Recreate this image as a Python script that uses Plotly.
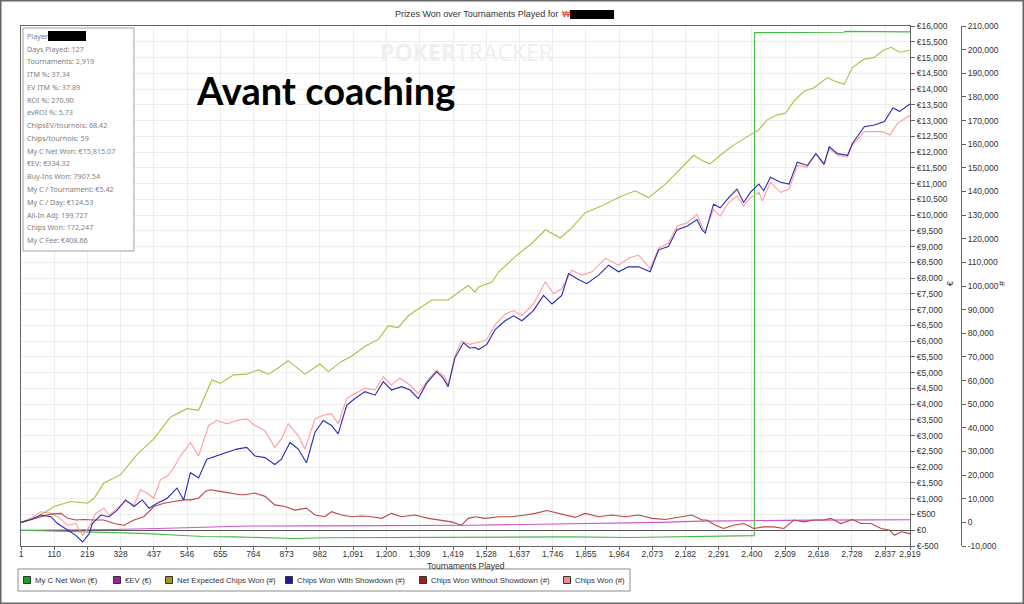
import plotly.graph_objects as go

# ---------------- data ----------------
t_net_exp = [1, 55, 110, 164, 219, 241, 273, 328, 382, 437, 491, 546, 584, 628, 655, 699, 742,
             780, 813, 845, 878, 906, 933, 982, 1010, 1053, 1086, 1130, 1174, 1206, 1239, 1272, 1305,
             1349, 1403, 1447, 1469, 1491, 1503, 1547, 1569, 1623, 1678, 1722, 1771, 1809, 1853, 1908,
             1962, 2017, 2061, 2116, 2159, 2209, 2236, 2263, 2296, 2340, 2384, 2422, 2450, 2483, 2510,
             2538, 2571, 2604, 2648, 2670, 2703, 2730, 2769, 2802, 2830, 2857, 2885, 2919]
net_expected_chips = [0, 2400, 6700, 8800, 8100, 10200, 16700, 20200, 28800, 35300, 44500, 48100, 47400,
                      60300, 58800, 62400, 62700, 64500, 62700, 65300, 68400, 65300, 62700, 67000, 63800,
                      68100, 70300, 74500, 77400, 83100, 82400, 87400, 90300, 94100, 94100, 98100, 100300,
                      97400, 99600, 101700, 106000, 112400, 118100, 123800, 120300, 124600, 131000, 133900,
                      137400, 140300, 137400, 143100, 148900, 155300, 153100, 151700, 155300, 159600,
                      163100, 166000, 170300, 172400, 173100, 178200, 182400, 183900, 188200, 186700,
                      185300, 192400, 196000, 196700, 199600, 201000, 198900, 199727]

t_with_sd = [1, 34, 66, 99, 121, 154, 181, 203, 225, 235, 263, 290, 317, 344, 372, 399, 421, 448, 481,
             513, 535, 557, 584, 611, 644, 677, 709, 742, 769, 802, 834, 856, 884, 911, 938, 966, 993,
             1020, 1042, 1070, 1097, 1130, 1163, 1190, 1217, 1250, 1278, 1305, 1332, 1365, 1387, 1403,
             1425, 1453, 1474, 1491, 1503, 1530, 1558, 1590, 1618, 1645, 1683, 1716, 1744, 1776, 1798,
             1826, 1858, 1897, 1930, 1962, 1995, 2028, 2066, 2094, 2126, 2154, 2187, 2220, 2236, 2247,
             2274, 2296, 2324, 2351, 2373, 2395, 2423, 2439, 2461, 2494, 2522, 2549, 2582, 2610, 2637,
             2654, 2681, 2714, 2730, 2769, 2802, 2835, 2863, 2885, 2919]
chips_with_showdown = [0, 1200, 3100, 2400, -500, -3300, -5500, -8300, -4800, -500, 3100, 2400, 5200,
                       9500, 6700, 9500, 6000, 8100, 10200, 14500, 9500, 21000, 18800, 26700, 28100,
                       29500, 31000, 31700, 28100, 27400, 24500, 26700, 33800, 31000, 25200, 38100,
                       43100, 41000, 37400, 49500, 52400, 55300, 53800, 59500, 56000, 57400, 56000,
                       52400, 58800, 63800, 61000, 57400, 69500, 76000, 73800, 74000, 73100, 75300,
                       81700, 85300, 87400, 85300, 89600, 96000, 92400, 96000, 105300, 103100, 101000,
                       104600, 108800, 106000, 108100, 108100, 106000, 115300, 116700, 123800, 125300,
                       128100, 123800, 122400, 134600, 133100, 137400, 141000, 135300, 139600, 143100,
                       140300, 146000, 143900, 143100, 152400, 151000, 156000, 151700, 158900, 156000,
                       155300, 160300, 167400, 168100, 169600, 175300, 173900, 177000]

t_chips_won = [1, 34, 66, 99, 121, 154, 181, 203, 225, 246, 273, 290, 317, 344, 372, 393, 415, 437, 459,
               481, 502, 524, 546, 557, 584, 617, 644, 677, 709, 742, 769, 802, 834, 856, 878, 911, 933,
               966, 993, 1020, 1042, 1070, 1097, 1130, 1163, 1190, 1217, 1245, 1278, 1305, 1332, 1365,
               1392, 1403, 1425, 1447, 1474, 1491, 1503, 1530, 1558, 1590, 1618, 1645, 1683, 1722, 1749,
               1776, 1809, 1842, 1875, 1919, 1962, 1995, 2028, 2066, 2094, 2126, 2154, 2187, 2220, 2236,
               2247, 2274, 2296, 2324, 2351, 2373, 2395, 2423, 2434, 2461, 2494, 2522, 2549, 2582, 2610,
               2637, 2654, 2681, 2714, 2730, 2769, 2802, 2830, 2852, 2879, 2919]
chips_won = [0, 1700, 4500, 3800, 2400, -1200, -500, -5500, -1900, 3800, 6000, 3100, 6000, 8800, 7400,
             13800, 12400, 10200, 18100, 19500, 23100, 28100, 31700, 33800, 28100, 41000, 43100, 41700,
             43100, 43800, 41000, 38800, 31700, 35300, 41700, 36700, 31000, 43800, 45300, 46000, 41700,
             52400, 54500, 56700, 56000, 61700, 58100, 61000, 58100, 54500, 59500, 64500, 61700, 58100,
             70300, 76700, 75300, 76000, 76000, 77400, 83800, 88100, 89600, 87400, 92400, 101700, 96700,
             98800, 106700, 104600, 106000, 111700, 108800, 111700, 113100, 107400, 116000, 118100,
             125300, 126700, 130300, 125300, 123100, 132400, 129600, 135300, 138100, 133900, 137400,
             139600, 136000, 143900, 139600, 141000, 151000, 150300, 156000, 151000, 158100, 155300,
             154600, 159600, 165300, 165300, 165300, 163900, 168900, 172247]

t_without_sd = [1, 34, 66, 99, 132, 154, 181, 208, 241, 273, 306, 339, 372, 404, 437, 470, 502, 535, 557,
                584, 606, 622, 655, 688, 720, 736, 769, 802, 834, 867, 900, 938, 966, 998, 1020, 1053,
                1086, 1119, 1152, 1185, 1217, 1250, 1294, 1338, 1381, 1414, 1447, 1469, 1491, 1525, 1569,
                1612, 1656, 1689, 1727, 1765, 1820, 1853, 1897, 1940, 1984, 2028, 2072, 2116, 2159, 2203,
                2236, 2252, 2280, 2307, 2340, 2373, 2406, 2439, 2472, 2505, 2538, 2571, 2604, 2637, 2659,
                2692, 2730, 2758, 2791, 2824, 2852, 2868, 2890, 2919]
chips_without_showdown = [0, 1200, 2400, 3500, 3800, 1700, 1000, 1200, 1000, 1000, -500, -1200, 1000,
                          2400, 6700, 8100, 8800, 9500, 9500, 10200, 13100, 13800, 13100, 12400, 11700,
                          11700, 12400, 11000, 7400, 6700, 5200, 6000, 3100, 2400, 4500, 3100, 2400, 2700,
                          2400, 1700, 3800, 2400, 3100, 1700, 1000, 200, -1200, 1700, 2400, 1700, 2400,
                          2400, 3100, 3800, 5000, 3800, 2100, 3800, 2400, 3100, 2400, 3100, 1700, 1200,
                          2100, 3100, 1000, 1000, -1200, -2600, -1200, -500, -2600, -1900, -1900, -2600,
                          1000, 200, 1000, 1000, 1700, -500, 1200, -500, -500, -2600, -3300, -5500, -4000,
                          -4750]

t_eev = [1, 150, 300, 450, 600, 750, 1000, 1250, 1480, 1700, 1900, 2100, 2230, 2400, 2600, 2800, 2919]
eev_eur = [0, 5, 25, 55, 90, 135, 140, 145, 160, 190, 215, 250, 290, 310, 320, 330, 334.32]

t_net_won = [1, 100, 200, 300, 400, 500, 600, 700, 800, 900, 1000, 1200, 1400, 1600, 1800, 2000, 2200,
             2300, 2408, 2409, 2500, 2700, 2710, 2800, 2919]
net_won_eur = [0, -20, -40, -60, -100, -150, -200, -210, -230, -260, -240, -230, -220, -200, -210, -230,
               -200, -170, -170, 15790, 15790, 15800, 15830, 15830, 15815.07]

x_ticks = [1, 110, 219, 328, 437, 546, 655, 764, 873, 982, 1091, 1200, 1309, 1419, 1528, 1637, 1746,
           1855, 1964, 2073, 2182, 2291, 2400, 2509, 2618, 2728, 2837, 2919]
euro_ticks = list(range(-500, 16001, 500))
chips_ticks = list(range(-10000, 210001, 10000))

stats_lines = ["Player", "Days Played: 127", "Tournaments: 2,919", "ITM %: 37.34", "EV ITM %: 37.89",
               "ROI %: 270.90", "evROI %: 5.73", "ChipsEV/tournois: 68.42", "Chips/tournois: 59",
               "My C Net Won: €15,815.07", "€EV: €334.32", "Buy-Ins Won: 7907.54",
               "My C / Tournament: €5.42", "My C / Day: €124.53", "All-In Adj: 199,727",
               "Chips Won: 172,247", "My C Fee: €408.66"]

legend_names = ["My C Net Won (€)", "€EV (€)", "Net Expected Chips Won (#)",
                "Chips Won With Showdown (#)", "Chips Won Without Showdown (#)", "Chips Won (#)"]
legend_colors = ["#1f9e1f", "#a020a0", "#a89a10", "#1a1aa8", "#a81c1c", "#f58c8c"]
legend_px = [27, 117, 169, 289, 423, 567]

# ---------------- layout helpers ----------------
L, R, T, B = 21, 961, 26, 546
W, H = R - L, B - T
PLOT_RIGHT = 910


def PX(x):
    return (x - L) / W


def PY(y):
    return (B - y) / H


FONT = "Liberation Sans"
fig = go.Figure()

line_w = 1.1
fig.add_trace(go.Scatter(x=t_chips_won, y=chips_won, yaxis="y2", mode="lines",
                         line=dict(color="#ff9c9c", width=line_w), showlegend=False, hoverinfo="skip"))
fig.add_trace(go.Scatter(x=t_without_sd, y=chips_without_showdown, yaxis="y2", mode="lines",
                         line=dict(color="#bb4646", width=line_w), showlegend=False, hoverinfo="skip"))
fig.add_trace(go.Scatter(x=t_net_exp, y=net_expected_chips, yaxis="y2", mode="lines",
                         line=dict(color="#b8b840", width=line_w), showlegend=False, hoverinfo="skip"))
fig.add_trace(go.Scatter(x=t_with_sd, y=chips_with_showdown, yaxis="y2", mode="lines",
                         line=dict(color="#2a2ab0", width=line_w), showlegend=False, hoverinfo="skip"))
fig.add_trace(go.Scatter(x=t_eev, y=eev_eur, yaxis="y", mode="lines",
                         line=dict(color="#cc55cc", width=line_w), showlegend=False, hoverinfo="skip"))
fig.add_trace(go.Scatter(x=t_net_won, y=net_won_eur, yaxis="y", mode="lines",
                         line=dict(color="#44bb44", width=line_w), showlegend=False, hoverinfo="skip"))

annotations = []
shapes = []

# title
annotations.append(dict(text="Prizes Won over Tournaments Played for ", x=PX(563), y=PY(14),
                        xref="paper", yref="paper", xanchor="right", yanchor="middle", showarrow=False,
                        font=dict(family=FONT, size=9, color="#333333")))
annotations.append(dict(text="₩", x=PX(566), y=PY(14), xref="paper", yref="paper", xanchor="center",
                        yanchor="middle", showarrow=False, font=dict(family=FONT, size=9, color="#e02020")))
shapes.append(dict(type="rect", xref="paper", yref="paper", x0=PX(570), x1=PX(614), y0=PY(19), y1=PY(10),
                   fillcolor="#000000", line=dict(width=0)))

# watermark
annotations.append(dict(text="<b>POKER</b>TRACKER", x=PX(466), y=PY(52), xref="paper", yref="paper",
                        xanchor="center", yanchor="middle", showarrow=False,
                        font=dict(family="Open Sans", size=23, color="#efefef")))

# big text
annotations.append(dict(text="<b>Avant coaching</b>", x=PX(194), y=PY(90), xref="paper", yref="paper",
                        xanchor="left", yanchor="middle", showarrow=False,
                        font=dict(family="Lato", size=38, color="#000000")))

# stats box
shapes.append(dict(type="rect", xref="paper", yref="paper", x0=PX(23), x1=PX(134), y0=PY(251), y1=PY(28),
                   fillcolor="#ffffff", line=dict(color="#a0a0a0", width=1)))
for i, s in enumerate(stats_lines):
    annotations.append(dict(text=s, x=PX(25), y=PY(36 + 12.75 * i), xref="paper", yref="paper",
                            xanchor="left", yanchor="middle", showarrow=False,
                            font=dict(family="Noto Sans", size=7.2, color="#808080")))
shapes.append(dict(type="rect", xref="paper", yref="paper", x0=PX(48), x1=PX(86), y0=PY(41), y1=PY(31),
                   fillcolor="#000000", line=dict(width=0)))

# axis titles
annotations.append(dict(text="Tournaments Played", x=PX(466), y=PY(566), xref="paper", yref="paper",
                        xanchor="center", yanchor="middle", showarrow=False,
                        font=dict(family=FONT, size=8.5, color="#333333")))
annotations.append(dict(text="€", x=PX(950), y=PY(284), xref="paper", yref="paper", textangle=-90,
                        xanchor="center", yanchor="middle", showarrow=False,
                        font=dict(family=FONT, size=9, color="#333333")))
annotations.append(dict(text="#", x=PX(1002), y=PY(284), xref="paper", yref="paper", textangle=-90,
                        xanchor="center", yanchor="middle", showarrow=False,
                        font=dict(family=FONT, size=9, color="#333333")))

# legend (drawn by hand)
shapes.append(dict(type="rect", xref="paper", yref="paper", x0=PX(18), x1=PX(630), y0=PY(591), y1=PY(569),
                   fillcolor="#ffffff", line=dict(color="#8a8a8a", width=1)))
for name, col, xp in zip(legend_names, legend_colors, legend_px):
    shapes.append(dict(type="rect", xref="paper", yref="paper", x0=PX(xp - 3.5), x1=PX(xp + 3.5),
                       y0=PY(583.5), y1=PY(576.5), fillcolor=col, line=dict(color="#333333", width=1)))
    annotations.append(dict(text=name, x=PX(xp + 6), y=PY(580), xref="paper", yref="paper",
                            xanchor="left", yanchor="middle", showarrow=False,
                            font=dict(family=FONT, size=7.8, color="#333333")))

# outer frame
shapes.append(dict(type="rect", xref="paper", yref="paper", x0=PX(0.5), x1=PX(1023.5), y0=PY(603.5),
                   y1=PY(0.5), line=dict(color="#666666", width=2), fillcolor="rgba(0,0,0,0)"))

tickfont = dict(family=FONT, size=8.5, color="#333333")
fig.update_layout(
    width=1024, height=604, template="none",
    margin=dict(l=L, r=1024 - R, t=T, b=604 - B, pad=0),
    paper_bgcolor="#ffffff", plot_bgcolor="#ffffff",
    showlegend=False,
    xaxis=dict(domain=[0, (PLOT_RIGHT - L) / W], range=[1, 2919], tickvals=x_ticks,
               ticktext=[f"{v:,}" for v in x_ticks], tickfont=tickfont, ticks="outside", ticklen=3,
               ticklabelstandoff=-3,
               tickcolor="#666666", showgrid=True, gridcolor="#ededed", gridwidth=1, zeroline=False,
               showline=True, linecolor="#666666", linewidth=1, mirror=True, automargin=False),
    yaxis=dict(side="right", anchor="x", range=[-500, 16000], tickvals=euro_ticks,
               ticktext=[f"€{v:,}" for v in euro_ticks], tickfont=tickfont, ticks="outside", ticklen=4,
               tickcolor="#666666", showgrid=True, gridcolor="#ededed", gridwidth=1, zeroline=True,
               zerolinecolor="#555555", zerolinewidth=1, showline=True, linecolor="#666666",
               linewidth=1, mirror=True, automargin=False),
    yaxis2=dict(overlaying="y", side="right", anchor="free", position=1.0, range=[-10000, 210000],
                tickvals=chips_ticks, ticktext=[f"{v:,}" for v in chips_ticks], tickfont=tickfont,
                ticks="outside", ticklen=4, tickcolor="#666666", showgrid=False, zeroline=False,
                showline=True, linecolor="#666666", linewidth=1, automargin=False),
    annotations=annotations, shapes=shapes,
)

fig.write_html("out.html", config={"displayModeBar": False, "staticPlot": True},
               post_script="document.body.style.margin='0px';document.body.style.overflow='hidden';")
